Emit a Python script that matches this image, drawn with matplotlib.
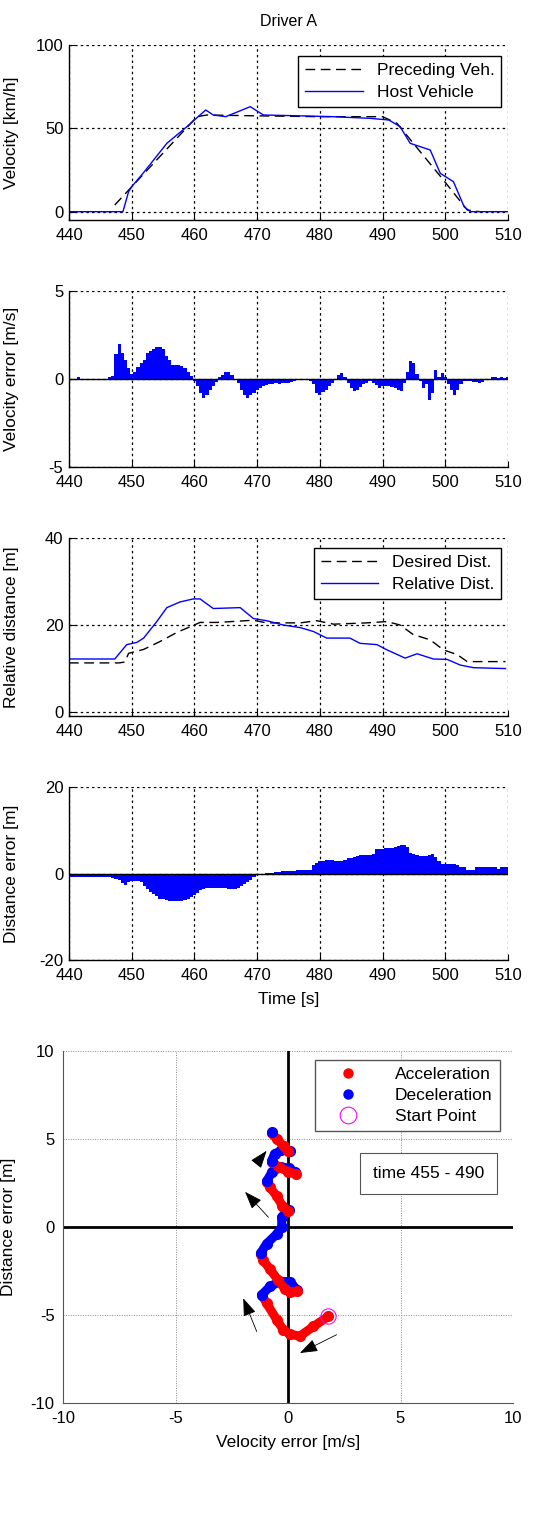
import matplotlib
matplotlib.use("Agg")
import matplotlib.pyplot as plt
from matplotlib.lines import Line2D
import numpy as np

plt.rcParams['font.family'] = ['Liberation Sans', 'DejaVu Sans']
plt.rcParams['axes.unicode_minus'] = False

# ---- velocity (km/h) ----
pre_t = [447.3, 460.4, 462, 470, 480, 490, 492.3, 499.7, 503.5, 505.5]
pre_v = [4, 57, 58, 57.5, 57, 57, 53, 19, 1, 0]
host_t = [440, 448.6, 449.5, 450, 451.8, 455.6, 458.8, 461.8, 463, 465, 468.9,
          471, 476.8, 482, 488, 491, 492.8, 494.4, 496, 497.6, 499.2, 501.3,
          503, 504, 510]
host_v = [0, 0, 12, 15, 23, 41, 51, 61, 58, 57, 63,
          58, 57.5, 57, 56, 55, 51, 41, 39, 37, 23, 18,
          3, 0, 0]

# ---- velocity error (m/s), one value every 0.5 s from 440 to 510 ----
vel_err = [0, 0, 0, 0.1, 0, 0, 0, 0, 0, 0,
           0, 0, 0, 0.1, 0.15, 1.4, 2.0, 1.5, 1.1, 0.6,
           0.3, 0.4, 0.7, 0.9, 1.1, 1.5, 1.6, 1.7, 1.8, 1.8,
           1.7, 1.3, 1.1, 0.8, 0.8, 0.8, 0.75, 0.6, 0.4, 0.15,
           -0.1, -0.4, -0.8, -1.1, -0.9, -0.6, -0.4, -0.15, 0.1, 0.25,
           0.4, 0.4, 0.2, 0.0, -0.2, -0.6, -0.9, -1.1, -0.9, -0.8,
           -0.6, -0.5, -0.4, -0.35, -0.3, -0.3, -0.25, -0.3, -0.25, -0.25,
           -0.25, -0.15, -0.1, -0.05, -0.05, -0.05, -0.05, -0.1, -0.3, -0.8,
           -0.9, -0.75, -0.6, -0.4, -0.2, 0.0, 0.2, 0.35, 0.1, -0.2,
           -0.5, -0.7, -0.6, -0.45, -0.3, -0.2, -0.1, -0.2, -0.35, -0.5,
           -0.4, -0.4, -0.4, -0.45, -0.5, -0.6, -0.7, -0.2, 0.4, 1.0,
           0.9, 0.3, -0.1, -0.5, -0.3, -1.2, -0.8, 0.5, 0.1, 0.35,
           0.1, -0.3, -0.6, -0.9, -0.6, -0.3, -0.1, -0.1, -0.1, -0.15,
           -0.15, -0.2, -0.15, -0.05, -0.05, 0.1, 0.1, 0.08, 0.1, 0.08,
           0.1]

# ---- distances (m) ----
des_t = [440, 448, 448.9, 449.5, 451.9, 454.5, 457.2, 459.3, 460.9, 463.6,
         469.4, 471.5, 476.9, 479.5, 482.2, 487.5, 490.7, 492.8, 494.9,
         497.6, 499.7, 501.9, 503.5, 509.6]
des_d = [11.3, 11.3, 11.5, 13.5, 14.4, 16.2, 18.3, 19.6, 20.6, 20.6,
         21.1, 20.5, 20.5, 21, 20.2, 20.5, 20.8, 20, 17.8,
         16.6, 14.3, 13.2, 11.6, 11.6]
rel_t = [440, 447.3, 449.2, 450.8, 451.9, 454, 455.6, 457.7, 459.8, 460.9,
         463, 467.3, 469.4, 471.5, 474.2, 476.9, 479, 481.1, 484.8, 486.4,
         489.1, 490.7, 493.6, 495.5, 498.1, 500.3, 502.4, 504.5, 509.6]
rel_d = [12.2, 12.2, 15.5, 16, 17, 20.8, 24, 25.3, 26, 26,
         23.8, 24, 21.5, 21, 20, 19.4, 18.5, 17, 17, 15.8,
         15.5, 14.3, 12.4, 13.4, 12.2, 12.1, 10.8, 10.2, 10]

# ---- distance error (m), one value every 0.5 s from 440 to 510 ----
dist_err = [-0.8, -0.7, -0.7, -0.7, -0.7, -0.7, -0.7, -0.7, -0.7, -0.7,
            -0.7, -0.7, -0.8, -0.9, -1.0, -1.2, -1.5, -2.2, -2.6, -2.0,
            -1.8, -1.7, -1.8, -2.0, -3.0, -3.6, -4.3, -4.8, -5.3, -5.8,
            -6.0, -6.1, -6.3, -6.4, -6.4, -6.3, -6.3, -6.2, -5.8, -5.5,
            -5.0, -4.5, -3.9, -3.5, -3.3, -3.3, -3.3, -3.3, -3.4, -3.4,
            -3.3, -3.5, -3.6, -3.5, -3.3, -3.0, -2.5, -2.0, -1.4, -0.8,
            -0.4, -0.1, 0.0, 0.1, 0.2, 0.2, 0.4, 0.4, 0.6, 0.6,
            0.6, 0.6, 0.6, 0.7, 0.7, 0.8, 0.8, 0.9, 2.0, 2.5,
            2.8, 3.0, 3.2, 3.2, 3.2, 3.0, 3.0, 3.0, 3.1, 3.5,
            3.6, 3.8, 4.0, 4.2, 4.3, 4.3, 4.3, 4.4, 5.6, 5.7,
            5.7, 5.8, 5.8, 6.0, 6.1, 6.3, 6.7, 6.5, 6.2, 4.8,
            4.6, 4.3, 4.1, 4.0, 4.0, 4.2, 4.4, 3.8, 2.8, 2.2,
            2.2, 2.2, 2.2, 2.3, 2.0, 1.5, 1.5, 0.9, 0.9, 0.9,
            1.6, 1.6, 1.6, 1.6, 1.6, 1.6, 1.6, 1.0, 1.6, 1.6,
            1.6]

# ---- phase plot segments (velocity error, distance error) ----
phase_segments = [
    ('acc', [1.79, 1.13, 0.53, 0.09, -0.21, -0.5, -0.95, -1.17],
            [-5.08, -5.65, -6.2, -6.1, -5.84, -5.27, -4.33, -3.86]),
    ('dec', [-1.17, -0.8, -0.36, 0.09, 0.39],
            [-3.86, -3.38, -3.1, -3.1, -3.57]),
    ('acc', [0.39, 0.1, -0.15, -0.45, -0.8, -1.1, -1.22],
            [-3.65, -3.72, -3.5, -3.0, -2.4, -1.9, -1.55]),
    ('dec', [-1.22, -0.95, -0.5, -0.28, -0.28, -0.1, 0.05],
            [-1.5, -0.95, -0.4, 0.0, 0.55, 0.85, 0.95]),
    ('acc', [0.0, -0.25, -0.5, -0.8, -0.95],
            [0.9, 1.2, 1.75, 2.25, 2.57]),
    ('dec', [-0.95, -0.7, -0.3, 0.05, 0.3],
            [2.6, 3.15, 3.4, 3.35, 3.1]),
    ('acc', [0.35, 0.0, -0.4, -0.7],
            [3.0, 3.15, 3.4, 3.7]),
    ('dec', [-0.73, -0.6, -0.3, 0.1],
            [3.75, 4.15, 4.35, 4.33]),
    ('acc', [0.0, -0.2, -0.5, -0.73],
            [4.3, 4.6, 5.0, 5.35]),
    ('dec', [-0.73], [5.41]),
]
start_pt = (1.79, -5.08)
arrows = [((2.16, -6.12), (0.53, -7.16)),
          ((-1.39, -5.94), (-1.99, -4.05)),
          ((-0.87, 0.55), (-1.91, 2.0)),
          ((-1.4, 3.6), (-0.95, 4.33))]

xticks = [440, 450, 460, 470, 480, 490, 500, 510]
t_half = np.arange(440, 510.01, 0.5)

fig = plt.figure(figsize=(5.33, 15.14), dpi=100)
W, H = 533.0, 1514.0


def add_ax(x0, x1, y0, y1):
    return fig.add_axes([x0 / W, 1 - y1 / H, (x1 - x0) / W, (y1 - y0) / H])


def style_time_axis(ax, ylim, yticks, ylabel):
    ax.set_xlim(440, 510)
    ax.set_ylim(*ylim)
    ax.set_xticks(xticks)
    ax.set_yticks(yticks)
    ax.grid(True, color='black', linestyle=(0, (2, 2.5)), linewidth=0.9)
    for s in ['top', 'right']:
        ax.spines[s].set_visible(False)
    for s in ['left', 'bottom']:
        ax.spines[s].set_linewidth(1.0)
    ax.tick_params(direction='in', length=4, labelsize=12)
    ax.tick_params(axis='x', pad=6)
    ax.tick_params(axis='y', pad=4)
    ax.set_ylabel(ylabel, fontsize=12.5)
    ax.yaxis.set_label_coords(-0.115, 0.5)
    ax.set_axisbelow(True)


# panel 1
ax1 = add_ax(69, 508, 45, 220)
ax1.plot(pre_t, pre_v, color='black', lw=1.0, dashes=(7, 4), label='Preceding Veh.')
ax1.plot(host_t, host_v, color='#0000FF', lw=1.0, label='Host Vehicle')
style_time_axis(ax1, (-5, 100), [0, 50, 100], 'Velocity [km/h]')
ax1.set_title('Driver A', fontsize=11.5, pad=14)
ax1.legend(loc='upper right', bbox_to_anchor=(0.985, 0.94), fontsize=12.5,
           fancybox=False, edgecolor='black', framealpha=1, borderaxespad=0,
           handlelength=3.3, labelspacing=0.4)

# panel 2
ax2 = add_ax(69, 508, 291, 467)
ax2.bar(t_half, vel_err, width=0.5, color='#0000FF', linewidth=0)
ax2.axhline(0, color='black', lw=1.0)
style_time_axis(ax2, (-5, 5), [-5, 0, 5], 'Velocity error [m/s]')

# panel 3
ax3 = add_ax(69, 508, 538, 716)
ax3.plot(des_t, des_d, color='black', lw=1.0, dashes=(7, 4), label='Desired Dist.')
ax3.plot(rel_t, rel_d, color='#0000FF', lw=1.0, label='Relative Dist.')
style_time_axis(ax3, (-0.9, 40), [0, 20, 40], 'Relative distance [m]')
ax3.legend(loc='upper right', bbox_to_anchor=(0.985, 0.945), fontsize=12.5,
           fancybox=False, edgecolor='black', framealpha=1, borderaxespad=0,
           handlelength=3.3, labelspacing=0.4)

# panel 4
ax4 = add_ax(69, 508, 787, 960)
ax4.bar(t_half, dist_err, width=0.5, color='#0000FF', linewidth=0)
ax4.axhline(0, color='black', lw=1.0)
style_time_axis(ax4, (-20, 20), [-20, 0, 20], 'Distance error [m]')
ax4.set_xlabel('Time [s]', fontsize=12.5, labelpad=6)

# panel 5
ax5 = add_ax(63, 513, 1051, 1403)
ax5.set_xlim(-10, 10)
ax5.set_ylim(-10, 10)
ax5.set_xticks([-10, -5, 0, 5, 10])
ax5.set_yticks([-10, -5, 0, 5, 10])
ax5.grid(True, color='#888888', linestyle=(0, (1, 1.5)), linewidth=0.7)
ax5.set_axisbelow(True)
for s in ['top', 'right']:
    ax5.spines[s].set_visible(False)
for s in ['left', 'bottom']:
    ax5.spines[s].set_color('#555555')
    ax5.spines[s].set_linewidth(0.8)
ax5.axhline(0, color='black', lw=2.0, zorder=2)
ax5.axvline(0, color='black', lw=2.0, zorder=2)
ax5.tick_params(length=0, labelsize=12, pad=6)

colors = {'acc': '#FF0000', 'dec': '#0000FF'}
for kind, xs, ys in phase_segments:
    ax5.plot(xs, ys, color=colors[kind], lw=6.5, marker='o', ms=7,
             solid_capstyle='round', zorder=3)
ax5.plot(*start_pt, marker='o', ms=11, mfc='none', mec='#FF00FF', mew=0.8, zorder=4)

for (x0, y0), (x1, y1) in arrows:
    ax5.annotate('', xy=(x1, y1), xytext=(x0, y0),
                 arrowprops=dict(arrowstyle='-|>,head_length=1.1,head_width=0.4',
                                 color='black', lw=0.6, shrinkA=0, shrinkB=0),
                 zorder=5)

handles = [Line2D([], [], ls='none', marker='o', ms=6.5, color='#FF0000'),
           Line2D([], [], ls='none', marker='o', ms=6.5, color='#0000FF'),
           Line2D([], [], ls='none', marker='o', ms=12, mfc='none', mec='#FF00FF', mew=0.8)]
ax5.legend(handles, ['Acceleration', 'Deceleration', 'Start Point'],
           loc='upper right', bbox_to_anchor=(0.97, 0.975), fontsize=12.5,
           fancybox=False, edgecolor='#555555', framealpha=1, borderaxespad=0,
           handlelength=3.0, handletextpad=1.2, labelspacing=0.35)
ax5.text(0.812, 0.653, 'time 455 - 490', transform=ax5.transAxes, fontsize=12.5,
         ha='center', va='center',
         bbox=dict(boxstyle='square,pad=0.75', fc='white', ec='#555555', lw=0.8))

ax5.set_xlabel('Velocity error [m/s]', fontsize=12.5, labelpad=6)
ax5.set_ylabel('Distance error [m]', fontsize=12.5)
ax5.yaxis.set_label_coords(-0.105, 0.5)

fig.savefig('out.png', dpi=100)
